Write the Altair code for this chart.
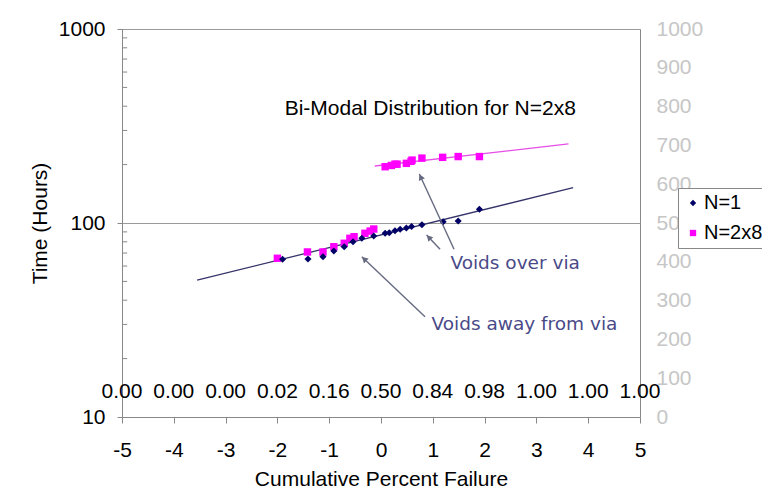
import math
import altair as alt
import pandas as pd

# ---------------- data ----------------
# N=1 (navy diamonds)
n1_x = [-1.90, -1.41, -1.12, -0.91, -0.71, -0.54, -0.37, -0.14, 0.08, 0.16, 0.27, 0.37,
        0.49, 0.59, 0.79, 1.20, 1.49, 1.90]
n1_y = [65.0, 65.2, 67.0, 71.7, 75.5, 80.1, 83.4, 85.7, 88.5, 89.1, 91.3, 92.8,
        94.2, 95.9, 98.0, 101.6, 102.4, 117.7]

# N=2x8 (magenta squares) – lower mode and upper mode
n2_x = [-2.00, -1.42, -1.12, -0.91, -0.71, -0.60, -0.52, -0.31, -0.21, -0.14,
        0.08, 0.20, 0.27, 0.31, 0.49, 0.58, 0.60, 0.79, 1.19, 1.49, 1.90]
n2_y = [65.8, 70.9, 70.9, 75.5, 78.6, 83.4, 85.0, 88.5, 90.9, 93.1,
        195, 198, 201, 201, 203, 208, 211, 216, 218, 220, 220]

# fitted trend lines (end points)
fit1_x = [-3.55, 3.71]
fit1_y = [50.8, 152.0]
fit2_x = [-0.12, 3.62]
fit2_y = [196.7, 255.5]

# axis tick values / labels
x_ticks = [-5, -4, -3, -2, -1, 0, 1, 2, 3, 4, 5]
cdf_labels = ["0.00", "0.00", "0.00", "0.02", "0.16", "0.50", "0.84", "0.98", "1.00", "1.00", "1.00"]
y_major = [10, 100, 1000]
y_minor = [20, 30, 40, 50, 60, 70, 80, 90, 200, 300, 400, 500, 600, 700, 800, 900]
right_ticks = [0, 100, 200, 300, 400, 500, 600, 700, 800, 900, 1000]

# annotations
notes_text = ["Voids over via", "Voids away from via"]
notes_x = [2.59, 2.77]
notes_y = [62.2, 30.0]
title_note = "Bi-Modal Distribution for N=2x8"
title_note_x = -1.86
title_note_y = 389

# arrows: start (at text) -> tip
arrow_x = [1.41, 1.14, 0.85]
arrow_y = [73.2, 73.2, 32.9]
arrow_x2 = [0.74, 0.88, -0.37]
arrow_y2 = [178.9, 86.7, 67.0]

# ---------------- styling ----------------
W, H = 518, 388
FONT = "Liberation Sans"
NOTE_FONT = "DejaVu Sans"
NAVY = "#000066"
MAGENTA = "#ff00ff"
GRAY = "#888888"
NOTE_COL = "#4a4a88"
ARROW_COL = "#666a80"
CDF_Y = 13.4  # height of the CDF label row (in the y data units)

x_scale = alt.Scale(domain=[-5, 5], nice=False, zero=False)
y_scale = alt.Scale(type="log", domain=[10, 1000], nice=False)

x_axis = alt.Axis(values=x_ticks, title="Cumulative Percent Failure", grid=False,
                  tickSize=6, labelPadding=16, titlePadding=8,
                  labelFontSize=21, titleFontSize=21, titleFontWeight="normal",
                  labelFont=FONT, titleFont=FONT, labelColor="black", titleColor="black",
                  domainColor=GRAY, tickColor=GRAY,
                  labelExpr="datum.value + ''", labelFlush=False, labelOverlap=False)
y_axis = alt.Axis(values=y_major, format="d", title="Time (Hours)", grid=True,
                  gridColor="#9a9a9a", tickSize=5, labelPadding=12, titlePadding=8,
                  labelFontSize=21, titleFontSize=21, titleFontWeight="normal",
                  labelFont=FONT, titleFont=FONT, labelColor="black", titleColor="black",
                  domainColor=GRAY, tickColor=GRAY,
                  labelOverlap=False)

X = alt.X("x:Q", scale=x_scale, axis=x_axis)
Y = alt.Y("y:Q", scale=y_scale, axis=y_axis)

series_domain = ["N=1", "N=2x8"]
legend = alt.Legend(title=None, orient="none", legendX=556, legendY=159,
                    strokeColor=GRAY, fillColor="white", padding=5,
                    labelFontSize=20, labelFont=FONT, labelColor="black",
                    symbolSize=40, rowPadding=10, labelOffset=1, symbolStrokeWidth=0)
COLOR = alt.Color("series:N", scale=alt.Scale(domain=series_domain, range=[NAVY, MAGENTA]),
                  legend=legend)
SHAPE = alt.Shape("series:N", scale=alt.Scale(domain=series_domain, range=["diamond", "square"]),
                  legend=legend)

# ---------------- tables ----------------
df_n1 = pd.DataFrame({"x": n1_x, "y": n1_y, "series": "N=1"})
df_n2 = pd.DataFrame({"x": n2_x, "y": n2_y, "series": "N=2x8"})
df_fit1 = pd.DataFrame({"x": fit1_x, "y": fit1_y})
df_fit2 = pd.DataFrame({"x": fit2_x, "y": fit2_y})
df_cdf = pd.DataFrame({"x": x_ticks, "y": [CDF_Y] * len(x_ticks), "label": cdf_labels})
df_minor = pd.DataFrame({"x": [-5] * len(y_minor), "x2": [-4.9] * len(y_minor), "y": y_minor})
df_notes = pd.DataFrame({"x": notes_x, "y": notes_y, "label": notes_text})
df_title = pd.DataFrame({"x": [title_note_x], "y": [title_note_y], "label": [title_note]})


def to_px(x, y):
    return (x + 5) / 10 * W, H - (math.log10(y) - 1) / 2 * H


def from_px(px, py):
    return px / W * 10 - 5, 10 ** ((H - py) / H * 2 + 1)


heads = []
R = 3.2
for xs, ys, xt, yt in zip(arrow_x, arrow_y, arrow_x2, arrow_y2):
    sx, sy = to_px(xs, ys)
    tx, ty = to_px(xt, yt)
    dx, dy = tx - sx, ty - sy
    L = math.hypot(dx, dy)
    ang = math.degrees(math.atan2(dx, -dy)) % 360
    cx, cy = tx - R * dx / L, ty - R * dy / L
    hx, hy = from_px(cx, cy)
    heads.append({"x": hx, "y": hy, "angle": ang})
df_arrows = pd.DataFrame({"x": arrow_x, "y": arrow_y, "x2": arrow_x2, "y2": arrow_y2})
df_heads = pd.DataFrame(heads)

# ---------------- layers ----------------
fit1 = alt.Chart(df_fit1).mark_line(color="#34346a", strokeWidth=1.3).encode(x=X, y=Y)
fit2 = alt.Chart(df_fit2).mark_line(color="#e64ee6", strokeWidth=1.3).encode(x=X, y=Y)

pts_n2 = alt.Chart(df_n2).mark_point(filled=True, opacity=1, size=55).encode(
    x=X, y=Y, color=COLOR, shape=SHAPE)
pts_n1 = alt.Chart(df_n1).mark_point(filled=True, opacity=1, size=50).encode(
    x=X, y=Y, color=COLOR, shape=SHAPE)

minor = alt.Chart(df_minor).mark_rule(color=GRAY, strokeWidth=1).encode(
    x=X, x2="x2:Q", y=Y)

cdf = alt.Chart(df_cdf).mark_text(font=FONT, fontSize=21, color="black",
                                  baseline="middle", align="center").encode(
    x=X, y=Y, text="label:N")

title_txt = alt.Chart(df_title).mark_text(font=FONT, fontSize=21, color="black",
                                          baseline="middle", align="left").encode(
    x=X, y=Y, text="label:N")

notes = alt.Chart(df_notes).mark_text(font=NOTE_FONT, fontSize=18.5, color=NOTE_COL,
                                      baseline="middle", align="center").encode(
    x=X, y=Y, text="label:N")

arrows = alt.Chart(df_arrows).mark_rule(color=ARROW_COL, strokeWidth=1.4).encode(
    x=X, y=Y, x2="x2:Q", y2="y2:Q")
arrow_heads = alt.Chart(df_heads).mark_point(shape="triangle-up", filled=True, size=45,
                                             color=ARROW_COL, opacity=1).encode(
    x=X, y=Y, angle=alt.Angle("angle:Q", scale=None))

main = alt.layer(minor, fit1, fit2, pts_n2, pts_n1, arrows, arrow_heads,
                 cdf, title_txt, notes)

df_right = pd.DataFrame({"x": [0, 0], "r": [0, 1000]})
right = alt.Chart(df_right).mark_point(opacity=0).encode(
    x=X,
    y=alt.Y("r:Q", scale=alt.Scale(domain=[0, 1000], nice=False, zero=False),
            axis=alt.Axis(orient="right", values=right_ticks, format="d", ticks=False,
                          domain=False, grid=False, labelPadding=16, labelColor="#c6c6c6",
                          labelFontSize=21, labelFont=FONT, title=None, labelOverlap=False)))

chart = alt.layer(main, right).resolve_scale(y="independent").properties(
    width=W, height=H,
    background="white",
    autosize=alt.AutoSizeParams(type="none"),
    padding={"left": 114, "top": 21, "right": 122, "bottom": 73},
).configure_view(stroke=GRAY, strokeWidth=1)

chart.save("out.html", embed_options={"renderer": "svg", "actions": False})
